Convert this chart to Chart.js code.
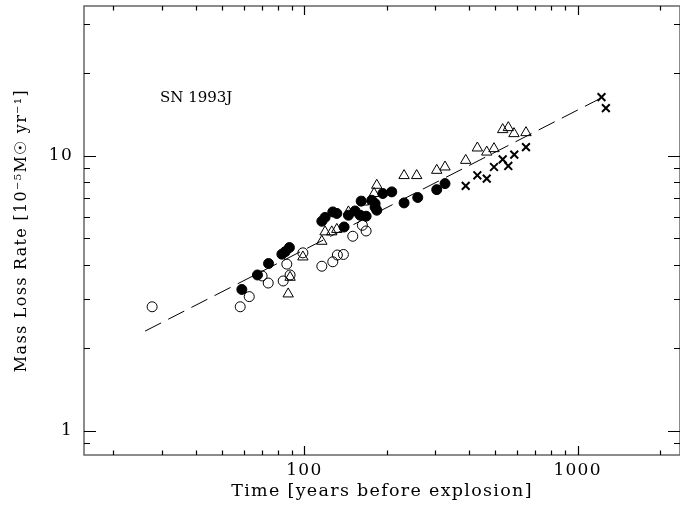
<!DOCTYPE html>
<html>
<head>
<meta charset="utf-8">
<script src="https://cdn.jsdelivr.net/npm/chart.js@4.4.1/dist/chart.umd.min.js"></script>
<style>
  html, body { margin: 0; padding: 0; background: #fff; }
</style>
</head>
<body>
<canvas id="massloss" width="680" height="505"></canvas>
<script>
// values (time in years, rate in 1e-5 Msun/yr)
const filledTime = [59.0, 67.3, 73.9, 82.7, 85.0, 88.1, 115.8, 119.0, 127.0, 131.4, 139.7, 144.9, 153.2, 159.9, 168.2, 176.4, 181.4, 184.0, 181.4, 193.6, 208.8, 231.6, 259.9, 305.0, 327.0, 161.3];
const filledRate = [3.26, 3.68, 4.05, 4.38, 4.47, 4.63, 5.77, 5.96, 6.24, 6.16, 5.50, 6.07, 6.29, 6.07, 6.02, 6.88, 6.69, 6.33, 6.49, 7.28, 7.38, 6.73, 7.04, 7.52, 7.91, 6.83];

const openTime = [27.7, 58.2, 62.8, 70.0, 73.7, 83.6, 86.2, 88.6, 98.7, 115.8, 127.0, 132.0, 138.9, 150.3, 163.0, 168.2];
const openRate = [2.82, 2.82, 3.07, 3.65, 3.44, 3.50, 4.03, 3.68, 4.43, 3.96, 4.11, 4.35, 4.37, 5.09, 5.58, 5.32];

const triTime = [87.2, 88.6, 98.7, 115.8, 119.0, 125.9, 131.4, 144.9, 164.4, 179.8, 184.0, 231.6, 257.6, 305.0, 327.0, 389.3, 429.5, 464.9, 494.2, 531.8, 557.5, 584.8, 647.1];
const triRate = [3.14, 3.61, 4.28, 4.88, 5.28, 5.28, 5.39, 6.24, 6.78, 7.28, 7.80, 8.46, 8.46, 8.84, 9.09, 9.61, 10.66, 10.30, 10.60, 12.43, 12.64, 12.02, 12.12];

const crossTime = [389.3, 429.5, 464.9, 494.2, 531.8, 557.5, 586.3, 647.1, 1223, 1269];
const crossRate = [7.76, 8.48, 8.25, 9.09, 9.69, 9.17, 10.08, 10.74, 16.32, 14.89];

const fitTime = [26.1, 1280];
const fitRate = [2.30, 16.6];

const xTickLabels = [100, 1000];
const yTickLabels = [1, 10];
const xMinorTicks = [20, 30, 40, 50, 60, 70, 80, 90, 200, 300, 400, 500, 600, 700, 800, 900, 2000];
const yMinorTicks = [0.9, 2, 3, 4, 5, 6, 7, 8, 9, 20, 30];

const serif = 'DejaVu Serif';

function pts(xs, ys) {
    return xs.map((x, i) => ({ x: x, y: ys[i] }));
}

function noPad(s) {
    s.paddingTop = 0;
    s.paddingBottom = 0;
    s.paddingLeft = 0;
    s.paddingRight = 0;
}

// frame with inward ticks on all four sides, plus the label
const framePlugin = {
    id: 'frame',
    beforeDraw(chart) {
        // the plot's lettering is widely spaced
        chart.ctx.letterSpacing = '1.3px';
    },
    afterDraw(chart) {
        const ctx = chart.ctx;
        const a = chart.chartArea;
        const xs = chart.scales.x, ys = chart.scales.y;
        ctx.save();
        ctx.strokeStyle = '#666';
        ctx.lineWidth = 1.5;
        ctx.strokeRect(a.left, a.top, a.right - a.left, a.bottom - a.top);

        ctx.strokeStyle = '#000';
        ctx.lineWidth = 1.2;
        ctx.beginPath();
        const xt = (v, len) => {
            const p = Math.round(xs.getPixelForValue(v)) + 0.5;
            ctx.moveTo(p, a.bottom); ctx.lineTo(p, a.bottom - len);
            ctx.moveTo(p, a.top); ctx.lineTo(p, a.top + len);
        };
        const yt = (v, len) => {
            const p = Math.round(ys.getPixelForValue(v)) + 0.5;
            ctx.moveTo(a.left, p); ctx.lineTo(a.left + len, p);
            ctx.moveTo(a.right, p); ctx.lineTo(a.right - len, p);
        };
        xTickLabels.forEach(v => xt(v, 9));
        xMinorTicks.forEach(v => xt(v, 4.5));
        yTickLabels.forEach(v => yt(v, 12));
        yMinorTicks.forEach(v => yt(v, 6));
        ctx.stroke();

        ctx.letterSpacing = '0px';
        ctx.fillStyle = '#000';
        ctx.font = '15px "' + serif + '"';
        ctx.textBaseline = 'middle';
        ctx.textAlign = 'left';
        ctx.fillText('SN 1993J', 160, 98);
        ctx.restore();
    }
};

const ctx = document.getElementById('massloss').getContext('2d');
const chart = new Chart(ctx, {
    type: 'scatter',
    data: {
        datasets: [
            {
                type: 'line',
                data: pts(fitTime, fitRate),
                borderColor: '#000',
                borderWidth: 1,
                borderDash: [18, 8],
                pointRadius: 0,
                fill: false
            },
            {
                data: pts(openTime, openRate),
                pointStyle: 'circle',
                pointRadius: 5,
                backgroundColor: 'rgba(0,0,0,0)',
                borderColor: '#000',
                borderWidth: 1
            },
            {
                data: pts(triTime, triRate),
                pointStyle: 'triangle',
                pointRadius: 6,
                backgroundColor: 'rgba(0,0,0,0)',
                borderColor: '#000',
                borderWidth: 1
            },
            {
                data: pts(filledTime, filledRate),
                pointStyle: 'circle',
                pointRadius: 5,
                backgroundColor: '#000',
                borderColor: '#000',
                borderWidth: 1
            },
            {
                data: pts(crossTime, crossRate),
                pointStyle: 'crossRot',
                pointRadius: 5.5,
                borderColor: '#000',
                borderWidth: 2
            }
        ]
    },
    options: {
        responsive: false,
        animation: false,
        devicePixelRatio: 1,
        layout: { autoPadding: false, padding: { top: 6, right: 0, left: 0, bottom: 0 } },
        plugins: {
            legend: { display: false },
            tooltip: { enabled: false }
        },
        scales: {
            x: {
                type: 'logarithmic',
                min: 15.6,
                max: 2370,
                grid: { display: false, drawTicks: false },
                border: { display: false },
                afterBuildTicks: (s) => { s.ticks = xTickLabels.map(v => ({ value: v })); },
                afterFit: (s) => { s.height = 50; noPad(s); },
                ticks: {
                    autoSkip: false,
                    maxRotation: 0,
                    padding: 5,
                    color: '#000',
                    font: { family: serif, size: 17 },
                    callback: (v) => String(v)
                },
                title: {
                    display: true,
                    text: 'Time [years before explosion]',
                    color: '#000',
                    font: { family: serif, size: 17.5 },
                    padding: { top: 0, bottom: 3 }
                }
            },
            y: {
                type: 'logarithmic',
                min: 0.815,
                max: 35,
                grid: { display: false, drawTicks: false },
                border: { display: false },
                afterBuildTicks: (s) => { s.ticks = yTickLabels.map(v => ({ value: v })); },
                afterFit: (s) => { s.width = 84; noPad(s); },
                ticks: {
                    autoSkip: false,
                    padding: 11,
                    color: '#000',
                    font: { family: serif, size: 17 },
                    callback: (v) => String(v)
                },
                title: {
                    display: true,
                    text: 'Mass Loss Rate [10\u207B\u2075M\u2609 yr\u207B\u00B9]',
                    color: '#000',
                    font: { family: serif, size: 16 },
                    padding: { top: 12, bottom: 0 }
                }
            }
        }
    },
    plugins: [framePlugin]
});
</script>
</body>
</html>
